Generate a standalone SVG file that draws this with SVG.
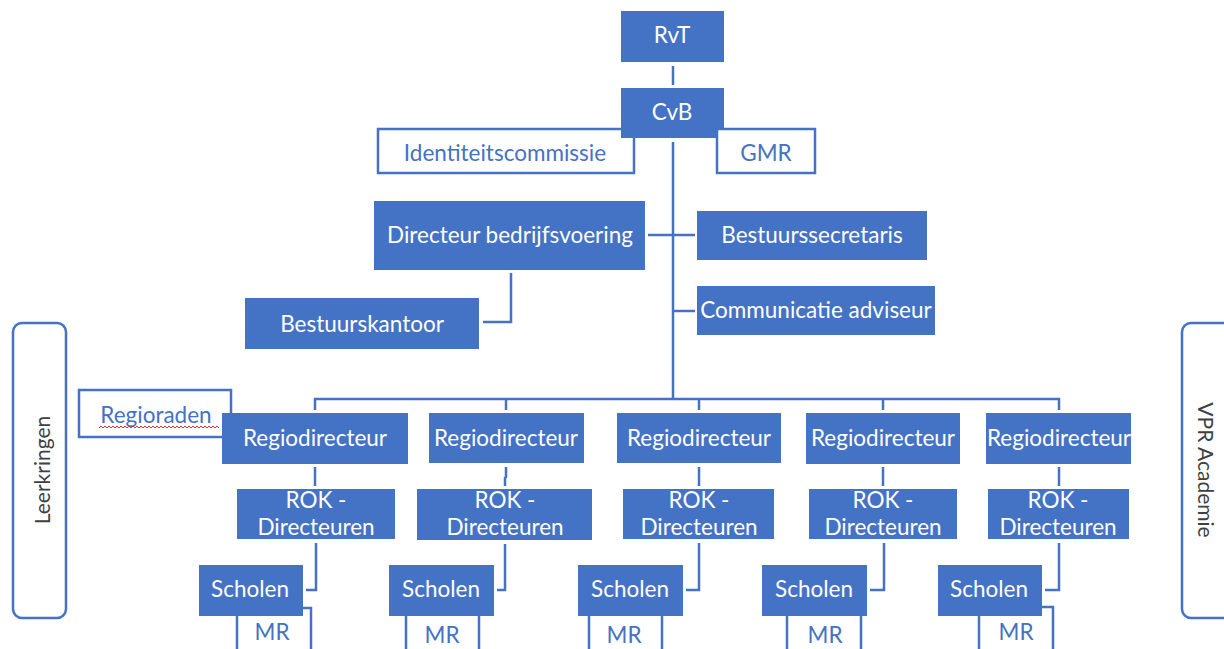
<svg xmlns="http://www.w3.org/2000/svg" width="1224" height="649" viewBox="0 0 1224 649">
<style>
.f{fill:#4472C4;}
.o{fill:#fff;stroke:#4472C4;stroke-width:2.5;}
.t{font-family:Lato,"Open Sans",sans-serif;font-size:22.5px;fill:#fff;text-anchor:middle;}
.b{font-family:Lato,"Open Sans",sans-serif;font-size:22.5px;fill:#4472C4;text-anchor:middle;}
.g{font-family:Lato,"Open Sans",sans-serif;font-size:21px;fill:#404040;text-anchor:middle;}
.c{fill:none;stroke:#4472C4;stroke-width:2.5;}
</style>
<rect width="1224" height="649" fill="#fff"/>
<g id="connectors">
<line class="c" x1="673" y1="66" x2="673" y2="85"/>
<line class="c" x1="673" y1="142" x2="673" y2="399"/>
<line class="c" x1="648" y1="235" x2="695" y2="235"/>
<line class="c" x1="673" y1="311" x2="695" y2="311"/>
<polyline class="c" points="511,273 511,322 483,322"/>
<polyline class="c" points="315,410 315,399 1059,399 1059,410"/>
<line class="c" x1="506" y1="399" x2="506" y2="410"/>
<line class="c" x1="699" y1="399" x2="699" y2="410"/>
<line class="c" x1="883" y1="399" x2="883" y2="410"/>
<line class="c" x1="315" y1="467" x2="315" y2="486"/>
<polyline class="c" points="506,467 506,477 505,478 505,486"/>
<line class="c" x1="699" y1="467" x2="699" y2="486"/>
<line class="c" x1="883" y1="467" x2="883" y2="486"/>
<line class="c" x1="1059" y1="467" x2="1059" y2="486"/>
<polyline class="c" points="316,543 316,590 306,590"/>
<polyline class="c" points="505,544 505,590 497,590"/>
<polyline class="c" points="699,543 699,590 686,590"/>
<polyline class="c" points="884,543 884,590 870,590"/>
<polyline class="c" points="1059,543 1059,590 1045,590"/>
</g>
<g id="rvt"><rect class="f" x="621" y="11" width="103" height="51"/><text class="t" x="672" y="43">RvT</text></g>
<g id="identiteitscommissie"><rect class="o" x="378" y="129" width="256" height="44"/><text class="b" x="505" y="161">Identiteitscommissie</text></g>
<g id="cvb"><rect class="f" x="621" y="88" width="103" height="50"/><text class="t" x="672" y="120">CvB</text></g>
<g id="gmr"><rect class="o" x="717" y="129" width="98" height="44"/><text class="b" x="766" y="161">GMR</text></g>
<g id="directeur"><rect class="f" x="374" y="201" width="271" height="69"/><text class="t" x="510" y="243">Directeur bedrijfsvoering</text></g>
<g id="bestuurssecretaris"><rect class="f" x="697" y="211" width="230" height="49"/><text class="t" x="812" y="243">Bestuurssecretaris</text></g>
<g id="communicatie"><rect class="f" x="697" y="286" width="238" height="49"/><text class="t" x="816" y="318">Communicatie adviseur</text></g>
<g id="bestuurskantoor"><rect class="f" x="245" y="298" width="234" height="51"/><text class="t" x="362" y="332">Bestuurskantoor</text></g>
<g id="leerkringen"><rect class="o" x="13" y="323" width="53" height="295" rx="9"/><text class="g" transform="translate(50,470) rotate(-90)">Leerkringen</text></g>
<g id="vpr"><rect class="o" x="1182" y="323" width="60" height="295" rx="9"/><text class="g" transform="translate(1198,470) rotate(90)">VPR Academie</text></g>
<g id="regioraden"><rect class="o" x="79" y="390" width="152" height="47"/><text class="b" x="156" y="423">Regioraden</text><path d="M99,428 l2,-2 l2,2 l2,-2 l2,2 l2,-2 l2,2 l2,-2 l2,2 l2,-2 l2,2 l2,-2 l2,2 l2,-2 l2,2 l2,-2 l2,2 l2,-2 l2,2 l2,-2 l2,2 l2,-2 l2,2 l2,-2 l2,2 l2,-2 l2,2 l2,-2 l2,2 l2,-2 l2,2 l2,-2 l2,2 l2,-2 l2,2 l2,-2 l2,2 l2,-2 l2,2 l2,-2 l2,2 l2,-2 l2,2 l2,-2 l2,2 l2,-2 l2,2 l2,-2 l2,2 l2,-2 l2,2 l2,-2 l2,2 l2,-2 l2,2 l2,-2 l2,2 l2,-2 l2,2 l2,-2 l2,2" fill="none" stroke="#e03030" stroke-width="1"/></g>
<g id="regio1"><rect class="f" x="222" y="413" width="186" height="51"/><text class="t" x="315" y="446">Regiodirecteur</text></g>
<g id="regio2"><rect class="f" x="429" y="413" width="155" height="50"/><text class="t" x="506" y="446">Regiodirecteur</text></g>
<g id="regio3"><rect class="f" x="617" y="413" width="164" height="50"/><text class="t" x="699" y="446">Regiodirecteur</text></g>
<g id="regio4"><rect class="f" x="806" y="413" width="154" height="51"/><text class="t" x="883" y="446">Regiodirecteur</text></g>
<g id="regio5"><rect class="f" x="986" y="413" width="145" height="51"/><text class="t" x="1059" y="446">Regiodirecteur</text></g>
<g id="rok1"><rect class="f" x="237" y="489" width="158" height="50"/><text class="t" x="316" y="508">ROK -</text><text class="t" x="316" y="535">Directeuren</text></g>
<g id="rok2"><rect class="f" x="417" y="489" width="175" height="51"/><text class="t" x="505" y="508">ROK -</text><text class="t" x="505" y="535">Directeuren</text></g>
<g id="rok3"><rect class="f" x="623" y="489" width="151" height="50"/><text class="t" x="699" y="508">ROK -</text><text class="t" x="699" y="535">Directeuren</text></g>
<g id="rok4"><rect class="f" x="809" y="489" width="148" height="50"/><text class="t" x="883" y="508">ROK -</text><text class="t" x="883" y="535">Directeuren</text></g>
<g id="rok5"><rect class="f" x="988" y="489" width="141" height="50"/><text class="t" x="1058" y="508">ROK -</text><text class="t" x="1058" y="535">Directeuren</text></g>
<g id="mr1"><rect class="o" x="237" y="608" width="74" height="50"/><text class="b" x="272" y="640">MR</text></g>
<g id="mr2"><rect class="o" x="406" y="612" width="73" height="50"/><text class="b" x="442" y="643">MR</text></g>
<g id="mr3"><rect class="o" x="589" y="612" width="73" height="50"/><text class="b" x="624" y="643">MR</text></g>
<g id="mr4"><rect class="o" x="787" y="612" width="74" height="50"/><text class="b" x="825" y="643">MR</text></g>
<g id="mr5"><rect class="o" x="979" y="607" width="74" height="50"/><text class="b" x="1016" y="640">MR</text></g>
<g id="scholen1"><rect class="f" x="199" y="565" width="104" height="51"/><text class="t" x="250" y="597">Scholen</text></g>
<g id="scholen2"><rect class="f" x="389" y="565" width="105" height="51"/><text class="t" x="441" y="597">Scholen</text></g>
<g id="scholen3"><rect class="f" x="578" y="565" width="105" height="51"/><text class="t" x="630" y="597">Scholen</text></g>
<g id="scholen4"><rect class="f" x="762" y="565" width="105" height="51"/><text class="t" x="814" y="597">Scholen</text></g>
<g id="scholen5"><rect class="f" x="938" y="565" width="104" height="51"/><text class="t" x="989" y="597">Scholen</text></g>
</svg>
